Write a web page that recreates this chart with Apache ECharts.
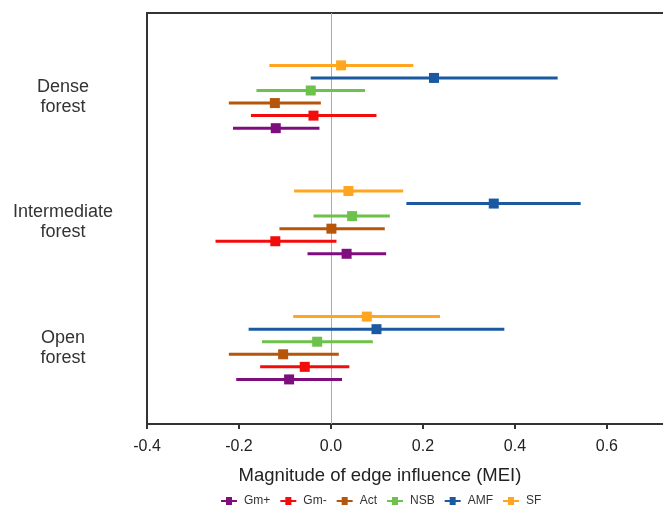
<!DOCTYPE html>
<html>
<head>
<meta charset="utf-8">
<script src="https://cdn.jsdelivr.net/npm/echarts@6/dist/echarts.min.js"></script>
<style>
html,body{margin:0;padding:0;background:#fff;}
#chart{width:663px;height:509px;}
</style>
</head>
<body>
<div id="chart"></div>
<script>
// Categories (top to bottom)
const groups = ['Dense\nforest', 'Intermediate\nforest', 'Open\nforest'];
// Series names (legend order; Gm+ is lowest in each group, SF highest)
const seriesNames = ['Gm+', 'Gm-', 'Act', 'NSB', 'AMF', 'SF'];
const seriesColors = ['#7E0E7E', '#F20C0C', '#B5560A', '#6CC24A', '#1B5AA0', '#FFA51F'];

// Mean MEI per group [Dense, Intermediate, Open]
const meanGmPlus  = [-0.120, 0.034, -0.091];
const meanGmMinus = [-0.038, -0.121, -0.057];
const meanAct     = [-0.122, 0.001, -0.104];
const meanNSB     = [-0.044, 0.046, -0.030];
const meanAMF     = [0.224, 0.354, 0.099];
const meanSF      = [0.022, 0.038, 0.078];

// Lower CI bound
const lowGmPlus  = [-0.213, -0.051, -0.206];
const lowGmMinus = [-0.174, -0.251, -0.154];
const lowAct     = [-0.222, -0.112, -0.222];
const lowNSB     = [-0.162, -0.038, -0.150];
const lowAMF     = [-0.044, 0.164, -0.179];
const lowSF      = [-0.134, -0.080, -0.082];

// Upper CI bound
const highGmPlus  = [-0.025, 0.120, 0.024];
const highGmMinus = [0.099, 0.012, 0.040];
const highAct     = [-0.022, 0.117, 0.017];
const highNSB     = [0.074, 0.128, 0.091];
const highAMF     = [0.493, 0.543, 0.377];
const highSF      = [0.179, 0.157, 0.237];

// X-axis ticks
const xTickMin = -0.4, xTickInterval = 0.2;

const means = [meanGmPlus, meanGmMinus, meanAct, meanNSB, meanAMF, meanSF];
const lows  = [lowGmPlus, lowGmMinus, lowAct, lowNSB, lowAMF, lowSF];
const highs = [highGmPlus, highGmMinus, highAct, highNSB, highAMF, highSF];

const STEP = 0.1; // within-group spacing in y-axis units
const font = 'Liberation Sans, Arial, Helvetica, sans-serif';
const legendIcon = 'path://M0,3H5V0H11V3H16V5H11V8H5V5H0Z';

const chart = echarts.init(document.getElementById('chart'), null, {renderer: 'canvas'});

const series = seriesNames.map((name, si) => {
  const data = groups.map((g, gi) => [lows[si][gi], highs[si][gi], means[si][gi], gi]);
  const s = {
    name: name,
    type: 'custom',
    itemStyle: {color: seriesColors[si]},
    encode: {x: [0, 1, 2], y: 3},
    renderItem: function (params, api) {
      const lo = api.value(0), hi = api.value(1), m = api.value(2), g = api.value(3);
      const yv = g + (2.5 - si) * STEP;
      const p1 = api.coord([lo, yv]);
      const p2 = api.coord([hi, yv]);
      const pm = api.coord([m, yv]);
      const c = seriesColors[si];
      return {
        type: 'group',
        children: [
          {type: 'line', shape: {x1: p1[0], y1: p1[1], x2: p2[0], y2: p2[1]}, style: {stroke: c, lineWidth: 3}},
          {type: 'rect', shape: {x: pm[0] - 5, y: pm[1] - 5, width: 10, height: 10}, style: {fill: c}}
        ]
      };
    },
    data: data,
    z: 3
  };
  if (si === 0) {
    s.markLine = {
      silent: true,
      symbol: 'none',
      label: {show: false},
      lineStyle: {color: '#aaaaaa', width: 1, type: 'solid'},
      data: [{xAxis: 0}],
      z: 1
    };
  }
  return s;
});

chart.setOption({
  animation: false,
  backgroundColor: '#ffffff',
  textStyle: {fontFamily: font},
  grid: {left: 147, right: 0, top: 13, bottom: 85, containLabel: false},
  legend: {
    data: seriesNames.map(n => ({name: n, icon: legendIcon})),
    left: 221,
    top: 495,
    padding: 0,
    itemWidth: 16,
    itemHeight: 8,
    itemGap: 10,
    textStyle: {fontSize: 12, color: '#333', fontFamily: font, padding: [0, 0, 0, 2]}
  },
  xAxis: [{
    type: 'value',
    position: 'bottom',
    min: xTickMin,
    max: 0.722,
    interval: xTickInterval,
    name: 'Magnitude of edge influence (MEI)',
    nameLocation: 'middle',
    nameGap: 42,
    nameTextStyle: {fontSize: 18.5, color: '#222', fontFamily: font, padding: [0, 50, 0, 0]},
    axisLine: {show: true, onZero: false, lineStyle: {color: '#333', width: 2}},
    axisTick: {show: true, length: 5, lineStyle: {color: '#333', width: 2}},
    axisLabel: {
      fontSize: 16, color: '#222', margin: 15, fontFamily: font,
      showMaxLabel: false,
      formatter: v => v.toFixed(1)
    },
    splitLine: {show: false}
  }, {
    type: 'value',
    position: 'top',
    min: xTickMin,
    max: 0.722,
    interval: xTickInterval,
    axisLine: {show: true, onZero: false, lineStyle: {color: '#333', width: 2}},
    axisTick: {show: false},
    axisLabel: {show: false},
    splitLine: {show: false}
  }],
  yAxis: {
    type: 'value',
    inverse: true,
    min: -0.667,
    max: 2.605,
    axisLine: {show: true, onZero: false, lineStyle: {color: '#333', width: 2}},
    axisTick: {show: false},
    splitLine: {show: false},
    axisLabel: {
      customValues: [0, 1, 2],
      fontSize: 18,
      lineHeight: 20,
      color: '#333',
      align: 'center',
      margin: 84,
      fontFamily: font,
      formatter: v => groups[Math.round(v)]
    }
  },
  series: series
});
</script>
</body>
</html>
